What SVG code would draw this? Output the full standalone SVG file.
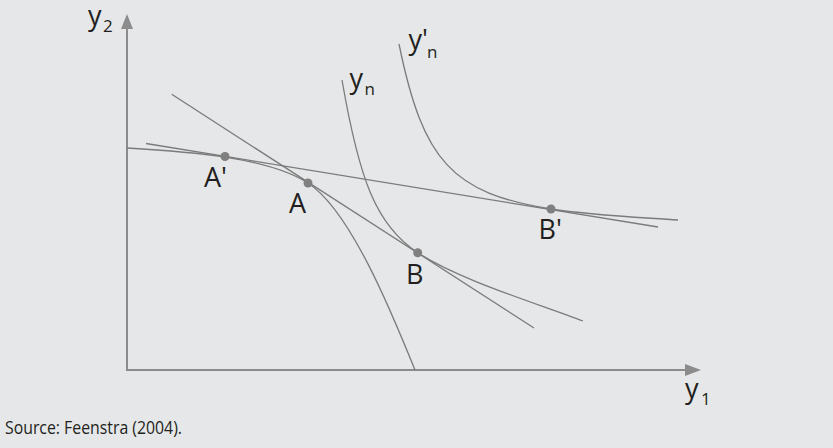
<svg xmlns="http://www.w3.org/2000/svg" width="833" height="448" viewBox="0 0 833 448">
  <defs>
    <style>
      .bg { fill: #e6e7e8; }
      .axis { stroke: #8c8c8c; stroke-width: 2; fill: none; }
      .head { fill: #8c8c8c; }
      .curve { stroke: #7b7b7b; stroke-width: 1.3; fill: none; }
      .dot { fill: #808080; }
      .lbl { font-family: "Open Sans", "Liberation Sans", sans-serif; font-size: 27px; fill: #231f20; }
      .sub { font-family: "Open Sans", "Liberation Sans", sans-serif; font-size: 17px; fill: #231f20; }
      .src { font-family: "Open Sans", "Liberation Sans", sans-serif; font-size: 19px; fill: #231f20; }
    </style>
  </defs>
  <rect class="bg" x="0" y="0" width="833" height="448"/>

  <g id="axes">
    <path class="axis" d="M127,28 V370 H686"/>
    <polygon class="head" points="127,14 133,29 121,29"/>
    <polygon class="head" points="701,370 685,364 685,376"/>
  </g>

  <g id="connectors">
    <path id="ppf" class="curve" d="M127,148 C187,151.6 268,157 308,183 C349.9,210.3 390.6,309.7 415,370"/>
    <path id="price-line-1" class="curve" d="M146,143.5 L658,227"/>
    <path id="price-line-2" class="curve" d="M171.7,94.3 L534,328"/>
    <path id="yn-curve" class="curve" d="M342,80 C359,178.5 375.8,225.5 417.7,252.7 C459.6,279.9 533,302 583,321"/>
    <path id="yn-prime-curve" class="curve" d="M399,44 C423,161.6 452.3,193.2 551,209 C591,215.3 638,217.2 678,220"/>
  </g>

  <g id="point-A-prime">
    <circle class="dot" cx="225" cy="156.5" r="4.5"/>
    <text class="lbl" x="204" y="186.7">A'</text>
  </g>
  <g id="point-A">
    <circle class="dot" cx="308" cy="183" r="4.5"/>
    <text class="lbl" x="289" y="212.7">A</text>
  </g>
  <g id="point-B">
    <circle class="dot" cx="417.7" cy="252.7" r="4.5"/>
    <text class="lbl" x="406" y="284">B</text>
  </g>
  <g id="point-B-prime">
    <circle class="dot" cx="551" cy="209" r="4.5"/>
    <text class="lbl" x="538.5" y="239">B'</text>
  </g>

  <g id="label-y2">
    <text class="lbl" x="88" y="25">y</text>
    <text class="sub" x="103" y="32">2</text>
  </g>
  <g id="label-y1">
    <text class="lbl" x="685" y="397.7">y</text>
    <text class="sub" x="701" y="405">1</text>
  </g>
  <g id="label-yn">
    <text class="lbl" x="349.5" y="87.7">y</text>
    <text class="sub" x="364.5" y="95">n</text>
  </g>
  <g id="label-yn-prime">
    <text class="lbl" x="408.5" y="49.4">y'</text>
    <text class="sub" x="427" y="58.3">n</text>
  </g>

  <g id="source">
    <text class="src" x="5" y="434.3" textLength="177" lengthAdjust="spacingAndGlyphs">Source: Feenstra (2004).</text>
  </g>
</svg>
